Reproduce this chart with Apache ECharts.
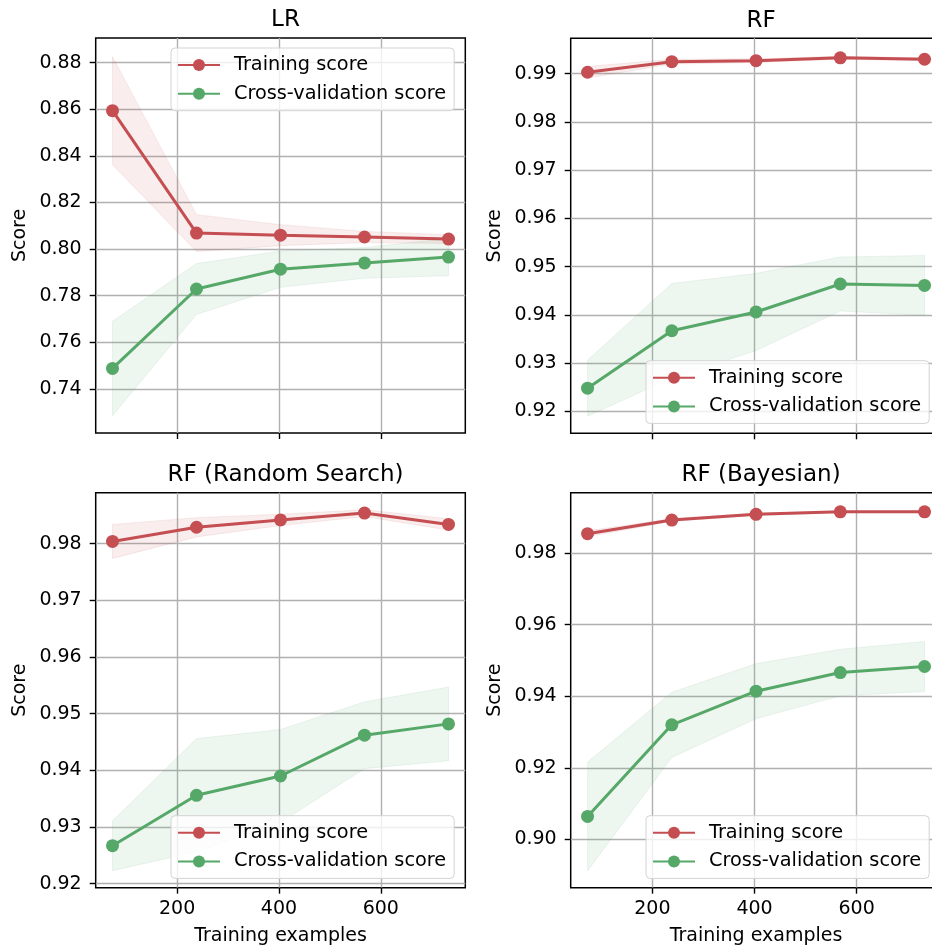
<!DOCTYPE html>
<html>
<head>
<meta charset="utf-8">
<script src="https://cdn.jsdelivr.net/npm/echarts@6/dist/echarts.min.js"></script>
<style>html,body{margin:0;padding:0;background:#fff;overflow:hidden}#c{width:950px;height:951px}</style>
</head>
<body>
<div id="c"></div>
<script>
// ---- data ----
const trainSizes = [73, 238, 403, 568, 733];
const xTicks = [200, 400, 600];
const panelTitles = ['LR', 'RF', 'RF (Random Search)', 'RF (Bayesian)'];
const seriesNames = ['Training score', 'Cross-validation score'];

const lrTrainMean = [0.8594, 0.8069, 0.8060, 0.8052, 0.8043];
const lrTrainStd  = [0.0232, 0.0079, 0.0045, 0.0024, 0.0019];
const lrCvMean    = [0.7488, 0.7829, 0.7914, 0.7941, 0.7966];
const lrCvStd     = [0.0203, 0.0109, 0.0078, 0.0066, 0.0080];
const lrYTicks    = [0.74, 0.76, 0.78, 0.80, 0.82, 0.84, 0.86, 0.88];

const rfTrainMean = [0.9903, 0.9925, 0.9927, 0.9933, 0.9930];
const rfTrainStd  = [0.0012, 0.0005, 0.0004, 0.0003, 0.0003];
const rfCvMean    = [0.9248, 0.9367, 0.9406, 0.9464, 0.9461];
const rfCvStd     = [0.0058, 0.0098, 0.0080, 0.0056, 0.0062];
const rfYTicks    = [0.92, 0.93, 0.94, 0.95, 0.96, 0.97, 0.98, 0.99];

const rsTrainMean = [0.9804, 0.9829, 0.9842, 0.9854, 0.9834];
const rsTrainStd  = [0.0030, 0.0017, 0.0010, 0.0006, 0.0010];
const rsCvMean    = [0.9267, 0.9356, 0.9390, 0.9462, 0.9482];
const rsCvStd     = [0.0044, 0.0100, 0.0082, 0.0059, 0.0065];
const rsYTicks    = [0.92, 0.93, 0.94, 0.95, 0.96, 0.97, 0.98];

const bsTrainMean = [0.9854, 0.9892, 0.9908, 0.9915, 0.9915];
const bsTrainStd  = [0.0008, 0.0004, 0.0003, 0.0002, 0.0002];
const bsCvMean    = [0.9064, 0.9320, 0.9414, 0.9466, 0.9483];
const bsCvStd     = [0.0152, 0.0091, 0.0077, 0.0065, 0.0070];
const bsYTicks    = [0.90, 0.92, 0.94, 0.96, 0.98];

// ---- layout / style ----
const FONT = 'DejaVu Sans';
const FS = 19;
const RED = '#C44E52', GREEN = '#55A868';
const RED_FILL = 'rgba(196,78,82,0.1)', GREEN_FILL = 'rgba(85,168,104,0.1)';

const panels = [
  {tm: lrTrainMean, ts: lrTrainStd, cm: lrCvMean, cs: lrCvStd, yt: lrYTicks, ymin: 0.7211, ymax: 0.8906,
   grid: {left: 95.7, top: 38, width: 369.6, height: 395}, legend: {left: 171, top: 48}, xlab: false},
  {tm: rfTrainMean, ts: rfTrainStd, cm: rfCvMean, cs: rfCvStd, yt: rfYTicks, ymin: 0.91544, ymax: 0.99734,
   grid: {left: 570.7, top: 38.3, width: 370.7, height: 395}, legend: {left: 646, top: 360.7}, xlab: false},
  {tm: rsTrainMean, ts: rsTrainStd, cm: rsCvMean, cs: rsCvStd, yt: rsYTicks, ymin: 0.91929, ymax: 0.9890,
   grid: {left: 95.7, top: 492.7, width: 369.6, height: 395}, legend: {left: 171, top: 815.7}, xlab: true},
  {tm: bsTrainMean, ts: bsTrainStd, cm: bsCvMean, cs: bsCvStd, yt: bsYTicks, ymin: 0.8865, ymax: 0.99685,
   grid: {left: 570.7, top: 492.7, width: 370.7, height: 395}, legend: {left: 646, top: 815.7}, xlab: true}
];

const grids = [], xAxes = [], yAxes = [], series = [], titles = [], legends = [];

function bandSeries(i, mean, std, fill) {
  const lower = mean.map((m, j) => m - std[j]);
  const upper = mean.map((m, j) => m + std[j]);
  return {
    type: 'custom', xAxisIndex: i, yAxisIndex: i, silent: true, z: 1,
    data: trainSizes.map((x, j) => [x, lower[j], upper[j]]),
    encode: {x: 0, y: [1, 2]},
    renderItem: function (params, api) {
      if (params.dataIndex !== 0) return null;
      const pts = [];
      for (let j = 0; j < trainSizes.length; j++) pts.push(api.coord([trainSizes[j], upper[j]]));
      for (let j = trainSizes.length - 1; j >= 0; j--) pts.push(api.coord([trainSizes[j], lower[j]]));
      return {type: 'polygon', shape: {points: pts}, style: {fill: fill, stroke: fill, lineWidth: 1}};
    }
  };
}

panels.forEach((p, i) => {
  grids.push(Object.assign({show: true, borderColor: '#000', borderWidth: 1.5, backgroundColor: 'transparent', containLabel: false}, p.grid));
  xAxes.push({
    type: 'value', gridIndex: i, min: 40, max: 766,
    name: p.xlab ? 'Training examples' : '', nameLocation: 'middle', nameGap: 39,
    nameTextStyle: {fontFamily: FONT, fontSize: FS, color: '#000'},
    axisLine: {show: false},
    axisTick: {show: true, length: 6, lineStyle: {color: '#000', width: 1.4}, customValues: xTicks},
    axisLabel: {show: p.xlab, fontFamily: FONT, fontSize: FS, color: '#000', margin: 12, customValues: xTicks},
    splitLine: {show: true, lineStyle: {color: '#b0b0b0', width: 1.4}}
  });
  yAxes.push({
    type: 'value', gridIndex: i, min: p.ymin, max: p.ymax,
    name: 'Score', nameLocation: 'middle', nameGap: 66, nameRotate: 90,
    nameTextStyle: {fontFamily: FONT, fontSize: FS, color: '#000'},
    axisLine: {show: false},
    axisTick: {show: true, length: 6, lineStyle: {color: '#000', width: 1.4}, customValues: p.yt},
    axisLabel: {fontFamily: FONT, fontSize: FS, color: '#000', margin: 14, customValues: p.yt,
                formatter: v => v.toFixed(2)},
    splitLine: {show: true, lineStyle: {color: '#b0b0b0', width: 1.4}}
  });
  series.push(bandSeries(i, p.tm, p.ts, RED_FILL));
  series.push(bandSeries(i, p.cm, p.cs, GREEN_FILL));
  series.push({
    name: seriesNames[0], type: 'line', xAxisIndex: i, yAxisIndex: i, z: 3,
    data: trainSizes.map((x, j) => [x, p.tm[j]]),
    symbol: 'circle', symbolSize: 13, color: RED,
    lineStyle: {color: RED, width: 3}, itemStyle: {color: RED}, animation: false
  });
  series.push({
    name: seriesNames[1], type: 'line', xAxisIndex: i, yAxisIndex: i, z: 3,
    data: trainSizes.map((x, j) => [x, p.cm[j]]),
    symbol: 'circle', symbolSize: 13, color: GREEN,
    lineStyle: {color: GREEN, width: 3}, itemStyle: {color: GREEN}, animation: false
  });
  titles.push({
    text: panelTitles[i], left: p.grid.left + p.grid.width / 2, top: p.grid.top - 34, textAlign: 'center',
    textStyle: {fontFamily: FONT, fontSize: 23, fontWeight: 'normal', color: '#000'}
  });
  legends.push({
    data: seriesNames, orient: 'vertical', left: p.legend.left, top: p.legend.top,
    itemWidth: 42, itemHeight: 15, itemGap: 8.7,
    padding: [7, 8, 7, 6],
    backgroundColor: 'rgba(255,255,255,0.8)', borderColor: '#d3d3d3', borderWidth: 1, borderRadius: 4,
    textStyle: {fontFamily: FONT, fontSize: 19.3, color: '#000', lineHeight: 20, padding: [0, 0, 0, 9]},
    selectedMode: false, z: 10
  });
});

const chart = echarts.init(document.getElementById('c'), null, {renderer: 'canvas'});
chart.setOption({
  animation: false, backgroundColor: '#fff',
  title: titles, legend: legends, grid: grids, xAxis: xAxes, yAxis: yAxes, series: series
});
</script>
</body>
</html>
